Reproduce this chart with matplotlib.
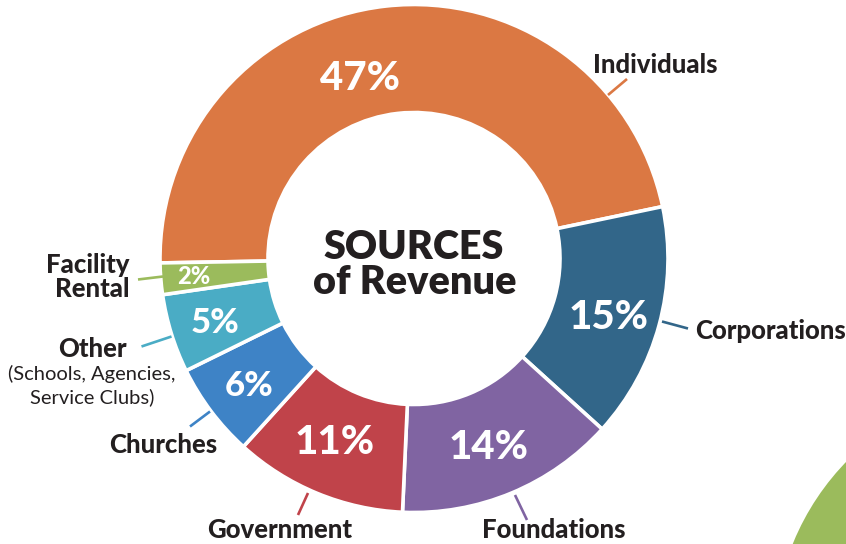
import numpy as np
import matplotlib
matplotlib.use("Agg")
import matplotlib.pyplot as plt
from matplotlib.patches import Circle

# Revenue breakdown (percent of total)
categories = ["Individuals", "Corporations", "Foundations", "Government",
              "Churches", "Other", "Facility Rental"]
shares = [47, 15, 14, 11, 6, 5, 2]
colors = ["#DB7843", "#326689", "#8064A2", "#C0434A",
          "#3E83C6", "#4AACC5", "#9BBB5C"]

W, H = 846, 544
fig = plt.figure(figsize=(W / 100, H / 100), dpi=100)
ax = fig.add_axes([0, 0, 1, 1])

FONT = ["Lato", "DejaVu Sans"]
DARK = "#231F20"


def P(x, y):
    """Pixel position (origin top-left) to data coordinates."""
    return x, H - y


cx, cy = P(414, 258.5)
R_OUT, R_IN = 254, 146

wedges, _ = ax.pie(shares, colors=colors, startangle=181, counterclock=False,
                   radius=R_OUT, center=(cx, cy),
                   wedgeprops=dict(width=R_OUT - R_IN, edgecolor="white",
                                   linewidth=2.6))

# percentage labels along each ring segment
label_radius = [188, 203, 203, 201, 208, 209, 221]
label_shift = [10.3, -1.8, -0.9, -1.0, 0.7, 0.8, 0.0]
label_size = [29, 29, 29, 29, 25, 25, 17]
for w, v, r, dth, fs in zip(wedges, shares, label_radius, label_shift, label_size):
    th = np.deg2rad((w.theta1 + w.theta2) / 2 + dth)
    ax.text(cx + r * np.cos(th), cy + r * np.sin(th), f"{v}%",
            ha="center", va="center", color="white", fontsize=fs,
            fontweight="black", family=FONT)

# leader lines from ring to category names
leaders = [((608, 95), (627, 79)),
           ((662, 321.5), (688, 328.5)),
           ((515, 495), (527, 520)),
           ((308, 493), (298, 515)),
           ((210, 411.5), (190, 426.5)),
           ((171.5, 336.5), (141.5, 346.5)),
           ((163, 276.5), (138, 279.5))]
for (p0, p1), c in zip(leaders, colors):
    x0, y0 = P(*p0)
    x1, y1 = P(*p1)
    ax.plot([x0, x1], [y0, y1], color=c, lw=1.9, solid_capstyle="butt")

name_kw = dict(color=DARK, fontsize=18.5, fontweight="black", family=FONT)
ax.text(*P(593, 73), categories[0], ha="left", va="baseline", **name_kw)
ax.text(*P(695, 339), categories[1], ha="left", va="baseline", **name_kw)
ax.text(*P(554, 538), categories[2], ha="center", va="baseline", **name_kw)
ax.text(*P(280, 538), categories[3], ha="center", va="baseline", **name_kw)
ax.text(*P(217, 453), categories[4], ha="right", va="baseline", **name_kw)
ax.text(*P(92, 357), categories[5], ha="center", va="baseline", **name_kw)
ax.text(*P(92, 380), "(Schools, Agencies,", ha="center", va="baseline",
        color=DARK, fontsize=14.5, family=FONT)
ax.text(*P(92, 403), "Service Clubs)", ha="center", va="baseline",
        color=DARK, fontsize=14.5, family=FONT)
ax.text(*P(129, 273), "Facility", ha="right", va="baseline", **name_kw)
ax.text(*P(129, 297), "Rental", ha="right", va="baseline", **name_kw)

# title in the hole
ax.text(*P(414, 259), "SOURCES", ha="center", va="baseline", color=DARK,
        fontsize=28.5, fontweight="heavy", family=FONT)
ax.text(*P(415, 294), "of Revenue", ha="center", va="baseline", color=DARK,
        fontsize=28.5, fontweight="heavy", family=FONT)

# decorative disc in the lower right corner
ax.add_patch(Circle(P(1030, 640), 256, color="#9BBB5C", lw=0))

ax.set_xlim(0, W)
ax.set_ylim(0, H)
ax.set_aspect("equal")
ax.axis("off")

fig.savefig("out.png", dpi=100, facecolor="white")
